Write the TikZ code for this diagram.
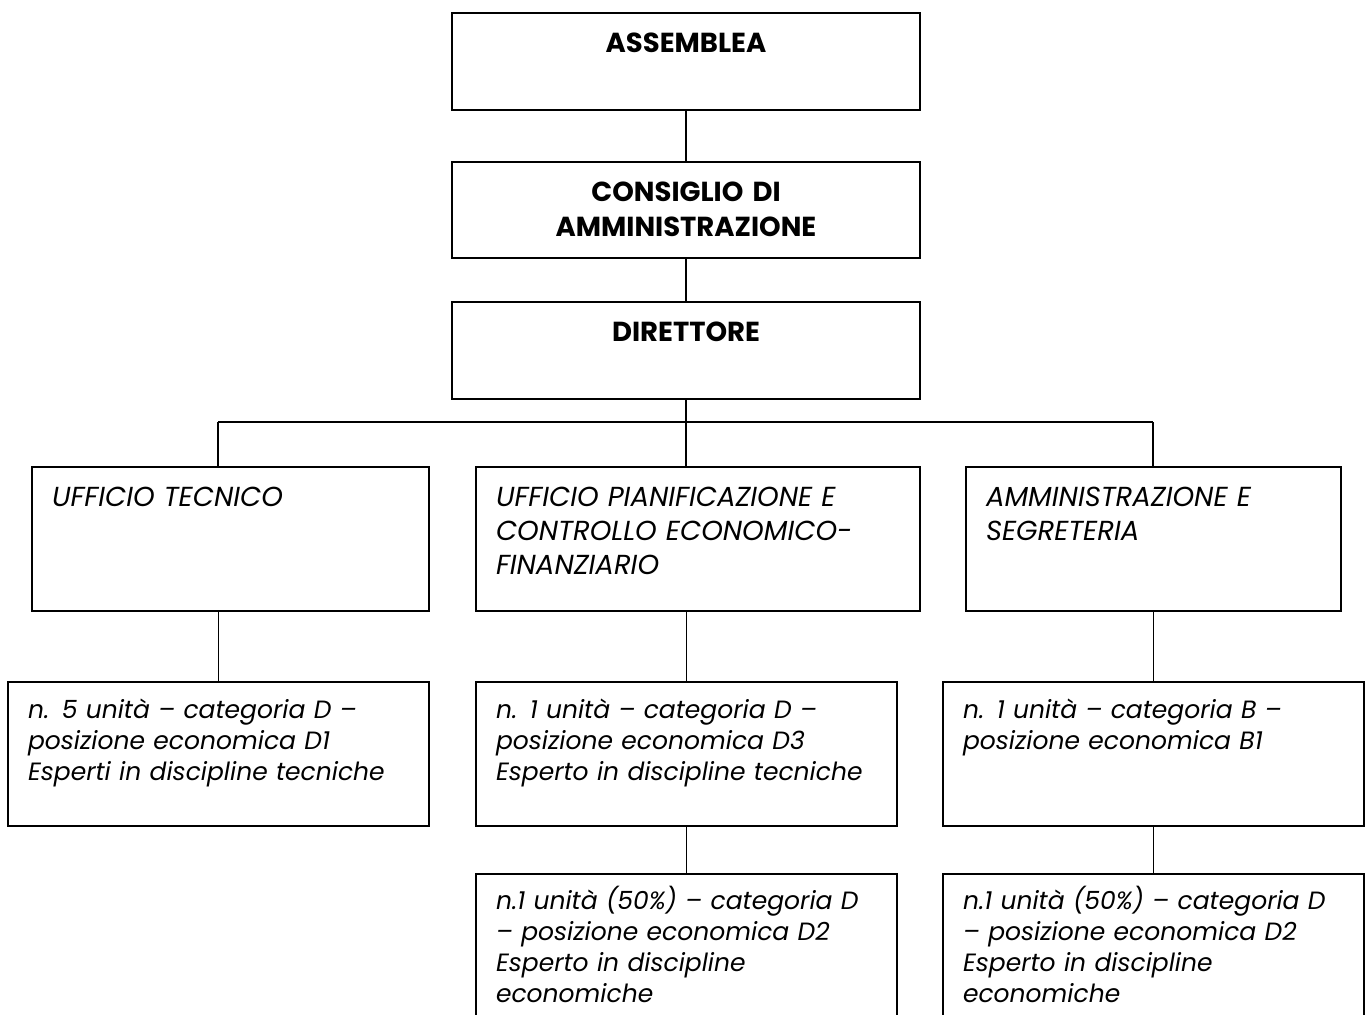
\documentclass[tikz,border=0pt]{standalone}
\usepackage{fontspec}
\setmainfont{Poppins}
\usetikzlibrary{positioning}

\begin{document}
\begin{tikzpicture}[x=0.4pt,y=-0.4pt,
  capo/.style={draw,line width=0.9pt,outer sep=0pt,inner xsep=0pt,inner ysep=0pt,text width=187.2pt,align=center,font=\fontsize{11}{14}\selectfont\bfseries,text height=15.7pt,text depth=23.1pt},
  ufficio/.style={draw,line width=0.8pt,outer sep=0pt,inner xsep=8pt,inner ysep=0pt,align=left,font=\fontsize{11}{13.6}\selectfont\itshape,text height=15.7pt,text depth=41.9pt},
  unita/.style={draw,line width=0.8pt,outer sep=0pt,inner xsep=8pt,inner ysep=0pt,text width=152.4pt,align=left,font=\fontsize{10}{12.4}\selectfont\itshape,text height=14.6pt,text depth=43pt},
  link/.style={line width=0.6pt}]
\path[use as bounding box,fill=white] (0,0) rectangle (1370,1014);
\clip (0,0) rectangle (1370,1014);
% vertice
\node[capo,anchor=north west] (assem) at (452,13) {ASSEMBLEA};
\node[capo,below=20.8pt of assem,text depth=22.7pt] (cda) {CONSIGLIO DI\\AMMINISTRAZIONE};
\node[capo,below=17.6pt of cda] (dir) {DIRETTORE};
% uffici
\node[ufficio,anchor=north west,text width=142.8pt] (utec) at (32,467) {UFFICIO TECNICO};
\node[ufficio,anchor=north west,text width=161.6pt] (upian) at (476,467) {UFFICIO PIANIFICAZIONE E\\CONTROLLO ECONOMICO-\\FINANZIARIO};
\node[ufficio,anchor=north west,text width=134pt] (amm) at (966,467) {AMMINISTRAZIONE E\\SEGRETERIA};
% personale
\node[unita,anchor=north west] (ptec) at (8,682) {n. 5 unità – categoria D –\\posizione economica D1\\Esperti in discipline tecniche};
\node[unita,anchor=north west] (ppian) at (476,682) {n. 1 unità – categoria D –\\posizione economica D3\\Esperto in discipline tecniche};
\node[unita,anchor=north west] (pamm) at (943,682) {n. 1 unità – categoria B –\\posizione economica B1};
\node[unita,below=19.2pt of ppian,text height=14.2pt,text depth=90pt] (epian) {n.1 unità (50\%) – categoria D\\– posizione economica D2\\Esperto in discipline\\economiche};
\node[unita,below=19.2pt of pamm,text height=14.2pt,text depth=90pt] (eamm) {n.1 unità (50\%) – categoria D\\– posizione economica D2\\Esperto in discipline\\economiche};
% collegamenti
\coordinate (busL) at (218,422);
\coordinate (busR) at (1153,422);
\draw[link] (assem.south) -- (cda.north);
\draw[link] (cda.south) -- (dir.north);
\draw[link] (busL) -- (busR);
\draw[link] (dir.south) -- (dir.south |- upian.north);
\draw[link] (busL) -- (busL |- utec.north);
\draw[link] (busR) -- (busR |- amm.north);
\draw[link] (ptec.north |- utec.south) -- (ptec.north);
\draw[link] (ppian.north |- upian.south) -- (ppian.north);
\draw[link] (pamm.north |- amm.south) -- (pamm.north);
\draw[link] (ppian.south) -- (epian.north);
\draw[link] (pamm.south) -- (eamm.north);
\end{tikzpicture}
\end{document}
